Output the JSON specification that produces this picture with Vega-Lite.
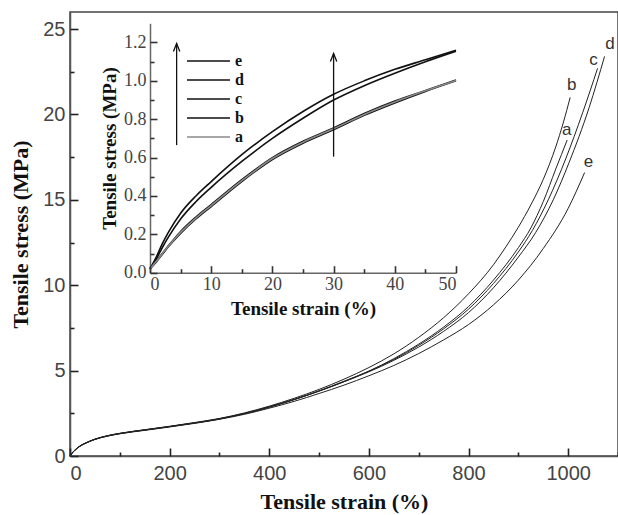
{
  "$schema": "https://vega.github.io/schema/vega-lite/v6.json",
  "width": 548,
  "height": 444,
  "autosize": {"type": "none"},
  "padding": {"left": 70, "top": 12, "right": 0, "bottom": 59},
  "background": "white",
  "config": {
    "view": {"stroke": "#444", "strokeWidth": 1.5},
    "axis": {"grid": false, "domainColor": "#555", "domainWidth": 1.5, "labelColor": "#444", "titleColor": "#111", "labelOverlap": false}
  },
  "datasets": {
    "main": [
      {"series": "a", "strain": 0, "stress": 0}, {"series": "a", "strain": 5, "stress": 0.2}, {"series": "a", "strain": 10, "stress": 0.35}, {"series": "a", "strain": 20, "stress": 0.58}, {"series": "a", "strain": 30, "stress": 0.74}, {"series": "a", "strain": 40, "stress": 0.87}, {"series": "a", "strain": 50, "stress": 0.98}, {"series": "a", "strain": 75, "stress": 1.18}, {"series": "a", "strain": 100, "stress": 1.32}, {"series": "a", "strain": 150, "stress": 1.52}, {"series": "a", "strain": 200, "stress": 1.72}, {"series": "a", "strain": 250, "stress": 1.93}, {"series": "a", "strain": 300, "stress": 2.17}, {"series": "a", "strain": 350, "stress": 2.48}, {"series": "a", "strain": 400, "stress": 2.86}, {"series": "a", "strain": 450, "stress": 3.3}, {"series": "a", "strain": 500, "stress": 3.8}, {"series": "a", "strain": 550, "stress": 4.35}, {"series": "a", "strain": 600, "stress": 4.97}, {"series": "a", "strain": 650, "stress": 5.7}, {"series": "a", "strain": 700, "stress": 6.55}, {"series": "a", "strain": 750, "stress": 7.55}, {"series": "a", "strain": 800, "stress": 8.75}, {"series": "a", "strain": 850, "stress": 10.3}, {"series": "a", "strain": 900, "stress": 12.2}, {"series": "a", "strain": 925, "stress": 13.35}, {"series": "a", "strain": 950, "stress": 14.9}, {"series": "a", "strain": 975, "stress": 16.8}, {"series": "a", "strain": 998, "stress": 18.5},
      {"series": "b", "strain": 0, "stress": 0}, {"series": "b", "strain": 5, "stress": 0.21}, {"series": "b", "strain": 10, "stress": 0.36}, {"series": "b", "strain": 20, "stress": 0.59}, {"series": "b", "strain": 30, "stress": 0.75}, {"series": "b", "strain": 40, "stress": 0.88}, {"series": "b", "strain": 50, "stress": 0.99}, {"series": "b", "strain": 75, "stress": 1.19}, {"series": "b", "strain": 100, "stress": 1.33}, {"series": "b", "strain": 150, "stress": 1.54}, {"series": "b", "strain": 200, "stress": 1.74}, {"series": "b", "strain": 250, "stress": 1.96}, {"series": "b", "strain": 300, "stress": 2.2}, {"series": "b", "strain": 350, "stress": 2.52}, {"series": "b", "strain": 400, "stress": 2.92}, {"series": "b", "strain": 450, "stress": 3.38}, {"series": "b", "strain": 500, "stress": 3.9}, {"series": "b", "strain": 550, "stress": 4.5}, {"series": "b", "strain": 600, "stress": 5.18}, {"series": "b", "strain": 650, "stress": 5.98}, {"series": "b", "strain": 700, "stress": 6.95}, {"series": "b", "strain": 750, "stress": 8.1}, {"series": "b", "strain": 800, "stress": 9.5}, {"series": "b", "strain": 850, "stress": 11.2}, {"series": "b", "strain": 875, "stress": 12.25}, {"series": "b", "strain": 900, "stress": 13.4}, {"series": "b", "strain": 925, "stress": 14.7}, {"series": "b", "strain": 950, "stress": 16.2}, {"series": "b", "strain": 975, "stress": 18.1}, {"series": "b", "strain": 990, "stress": 19.5}, {"series": "b", "strain": 1004, "stress": 21.0},
      {"series": "c", "strain": 0, "stress": 0}, {"series": "c", "strain": 5, "stress": 0.2}, {"series": "c", "strain": 10, "stress": 0.35}, {"series": "c", "strain": 20, "stress": 0.58}, {"series": "c", "strain": 30, "stress": 0.74}, {"series": "c", "strain": 40, "stress": 0.87}, {"series": "c", "strain": 50, "stress": 0.98}, {"series": "c", "strain": 75, "stress": 1.18}, {"series": "c", "strain": 100, "stress": 1.32}, {"series": "c", "strain": 150, "stress": 1.53}, {"series": "c", "strain": 200, "stress": 1.73}, {"series": "c", "strain": 250, "stress": 1.94}, {"series": "c", "strain": 300, "stress": 2.18}, {"series": "c", "strain": 350, "stress": 2.5}, {"series": "c", "strain": 400, "stress": 2.88}, {"series": "c", "strain": 450, "stress": 3.32}, {"series": "c", "strain": 500, "stress": 3.82}, {"series": "c", "strain": 550, "stress": 4.38}, {"series": "c", "strain": 600, "stress": 4.97}, {"series": "c", "strain": 650, "stress": 5.65}, {"series": "c", "strain": 700, "stress": 6.48}, {"series": "c", "strain": 750, "stress": 7.45}, {"series": "c", "strain": 800, "stress": 8.6}, {"series": "c", "strain": 850, "stress": 10.1}, {"series": "c", "strain": 900, "stress": 11.95}, {"series": "c", "strain": 928, "stress": 13.2}, {"series": "c", "strain": 960, "stress": 15.0}, {"series": "c", "strain": 995, "stress": 17.4}, {"series": "c", "strain": 1029, "stress": 20.1}, {"series": "c", "strain": 1059, "stress": 22.7},
      {"series": "d", "strain": 0, "stress": 0}, {"series": "d", "strain": 5, "stress": 0.19}, {"series": "d", "strain": 10, "stress": 0.34}, {"series": "d", "strain": 20, "stress": 0.57}, {"series": "d", "strain": 30, "stress": 0.73}, {"series": "d", "strain": 40, "stress": 0.86}, {"series": "d", "strain": 50, "stress": 0.97}, {"series": "d", "strain": 75, "stress": 1.17}, {"series": "d", "strain": 100, "stress": 1.31}, {"series": "d", "strain": 150, "stress": 1.52}, {"series": "d", "strain": 200, "stress": 1.72}, {"series": "d", "strain": 250, "stress": 1.93}, {"series": "d", "strain": 300, "stress": 2.17}, {"series": "d", "strain": 350, "stress": 2.48}, {"series": "d", "strain": 400, "stress": 2.86}, {"series": "d", "strain": 450, "stress": 3.3}, {"series": "d", "strain": 500, "stress": 3.8}, {"series": "d", "strain": 550, "stress": 4.35}, {"series": "d", "strain": 600, "stress": 4.93}, {"series": "d", "strain": 650, "stress": 5.6}, {"series": "d", "strain": 700, "stress": 6.38}, {"series": "d", "strain": 750, "stress": 7.3}, {"series": "d", "strain": 800, "stress": 8.4}, {"series": "d", "strain": 850, "stress": 9.85}, {"series": "d", "strain": 900, "stress": 11.65}, {"series": "d", "strain": 935, "stress": 13.1}, {"series": "d", "strain": 970, "stress": 15.0}, {"series": "d", "strain": 1002, "stress": 17.2}, {"series": "d", "strain": 1042, "stress": 20.4}, {"series": "d", "strain": 1073, "stress": 23.4},
      {"series": "e", "strain": 0, "stress": 0}, {"series": "e", "strain": 5, "stress": 0.19}, {"series": "e", "strain": 10, "stress": 0.34}, {"series": "e", "strain": 20, "stress": 0.57}, {"series": "e", "strain": 30, "stress": 0.73}, {"series": "e", "strain": 40, "stress": 0.86}, {"series": "e", "strain": 50, "stress": 0.97}, {"series": "e", "strain": 75, "stress": 1.16}, {"series": "e", "strain": 100, "stress": 1.3}, {"series": "e", "strain": 150, "stress": 1.5}, {"series": "e", "strain": 200, "stress": 1.7}, {"series": "e", "strain": 250, "stress": 1.91}, {"series": "e", "strain": 300, "stress": 2.15}, {"series": "e", "strain": 350, "stress": 2.44}, {"series": "e", "strain": 400, "stress": 2.8}, {"series": "e", "strain": 450, "stress": 3.2}, {"series": "e", "strain": 500, "stress": 3.66}, {"series": "e", "strain": 550, "stress": 4.15}, {"series": "e", "strain": 600, "stress": 4.7}, {"series": "e", "strain": 650, "stress": 5.3}, {"series": "e", "strain": 700, "stress": 6.0}, {"series": "e", "strain": 750, "stress": 6.8}, {"series": "e", "strain": 800, "stress": 7.7}, {"series": "e", "strain": 850, "stress": 8.85}, {"series": "e", "strain": 900, "stress": 10.3}, {"series": "e", "strain": 950, "stress": 12.15}, {"series": "e", "strain": 1000, "stress": 14.5}, {"series": "e", "strain": 1033, "stress": 16.6}
    ],
    "labels": [
      {"label": "a", "strain": 997, "stress": 19.1},
      {"label": "b", "strain": 1007, "stress": 21.7},
      {"label": "c", "strain": 1051, "stress": 23.2},
      {"label": "d", "strain": 1084, "stress": 24.1},
      {"label": "e", "strain": 1041, "stress": 17.2}
    ],
    "inset": [
      {"series": "e", "strain": 0, "stress": 0.02}, {"series": "e", "strain": 1, "stress": 0.08}, {"series": "e", "strain": 2, "stress": 0.15}, {"series": "e", "strain": 3, "stress": 0.21}, {"series": "e", "strain": 5, "stress": 0.31}, {"series": "e", "strain": 7.5, "stress": 0.4}, {"series": "e", "strain": 10, "stress": 0.475}, {"series": "e", "strain": 15, "stress": 0.615}, {"series": "e", "strain": 20, "stress": 0.735}, {"series": "e", "strain": 25, "stress": 0.84}, {"series": "e", "strain": 30, "stress": 0.93}, {"series": "e", "strain": 35, "stress": 1.0}, {"series": "e", "strain": 40, "stress": 1.06}, {"series": "e", "strain": 45, "stress": 1.11}, {"series": "e", "strain": 50, "stress": 1.16},
      {"series": "d", "strain": 0, "stress": 0.02}, {"series": "d", "strain": 1, "stress": 0.07}, {"series": "d", "strain": 2, "stress": 0.13}, {"series": "d", "strain": 3, "stress": 0.185}, {"series": "d", "strain": 5, "stress": 0.28}, {"series": "d", "strain": 7.5, "stress": 0.37}, {"series": "d", "strain": 10, "stress": 0.445}, {"series": "d", "strain": 15, "stress": 0.58}, {"series": "d", "strain": 20, "stress": 0.7}, {"series": "d", "strain": 25, "stress": 0.805}, {"series": "d", "strain": 30, "stress": 0.9}, {"series": "d", "strain": 35, "stress": 0.975}, {"series": "d", "strain": 40, "stress": 1.04}, {"series": "d", "strain": 45, "stress": 1.1}, {"series": "d", "strain": 50, "stress": 1.155},
      {"series": "c", "strain": 0, "stress": 0.02}, {"series": "c", "strain": 1, "stress": 0.06}, {"series": "c", "strain": 2, "stress": 0.1}, {"series": "c", "strain": 3, "stress": 0.14}, {"series": "c", "strain": 5, "stress": 0.215}, {"series": "c", "strain": 7.5, "stress": 0.29}, {"series": "c", "strain": 10, "stress": 0.355}, {"series": "c", "strain": 15, "stress": 0.485}, {"series": "c", "strain": 20, "stress": 0.6}, {"series": "c", "strain": 25, "stress": 0.685}, {"series": "c", "strain": 30, "stress": 0.755}, {"series": "c", "strain": 35, "stress": 0.83}, {"series": "c", "strain": 40, "stress": 0.895}, {"series": "c", "strain": 45, "stress": 0.95}, {"series": "c", "strain": 50, "stress": 1.005},
      {"series": "b", "strain": 0, "stress": 0.02}, {"series": "b", "strain": 1, "stress": 0.055}, {"series": "b", "strain": 2, "stress": 0.095}, {"series": "b", "strain": 3, "stress": 0.135}, {"series": "b", "strain": 5, "stress": 0.205}, {"series": "b", "strain": 7.5, "stress": 0.28}, {"series": "b", "strain": 10, "stress": 0.345}, {"series": "b", "strain": 15, "stress": 0.475}, {"series": "b", "strain": 20, "stress": 0.59}, {"series": "b", "strain": 25, "stress": 0.675}, {"series": "b", "strain": 30, "stress": 0.745}, {"series": "b", "strain": 35, "stress": 0.82}, {"series": "b", "strain": 40, "stress": 0.885}, {"series": "b", "strain": 45, "stress": 0.945}, {"series": "b", "strain": 50, "stress": 1.0},
      {"series": "a", "strain": 0, "stress": 0.02}, {"series": "a", "strain": 1, "stress": 0.058}, {"series": "a", "strain": 2, "stress": 0.098}, {"series": "a", "strain": 3, "stress": 0.138}, {"series": "a", "strain": 5, "stress": 0.21}, {"series": "a", "strain": 7.5, "stress": 0.285}, {"series": "a", "strain": 10, "stress": 0.35}, {"series": "a", "strain": 15, "stress": 0.48}, {"series": "a", "strain": 20, "stress": 0.595}, {"series": "a", "strain": 25, "stress": 0.68}, {"series": "a", "strain": 30, "stress": 0.75}, {"series": "a", "strain": 35, "stress": 0.825}, {"series": "a", "strain": 40, "stress": 0.89}, {"series": "a", "strain": 45, "stress": 0.948}, {"series": "a", "strain": 50, "stress": 1.002}
    ],
    "arrows": [
      {"strain": 4.35, "stress": 0.665, "stress2": 1.195},
      {"strain": 30, "stress": 0.605, "stress2": 1.143}
    ]
  },
  "resolve": {"scale": {"x": "independent", "y": "independent"}, "axis": {"x": "independent", "y": "independent"}},
  "layer": [
    {
      "data": {"name": "main"},
      "mark": {"type": "line", "interpolate": "monotone", "strokeWidth": 1, "color": "#222"},
      "encoding": {
        "detail": {"field": "series"},
        "x": {"field": "strain", "type": "quantitative", "scale": {"domain": [0, 1100], "nice": false},
          "axis": {"orient": "bottom", "title": "Tensile strain (%)", "values": [0, 200, 400, 600, 800, 1000],
            "format": "d", "ticks": false,
            "labelFont": "Liberation Sans", "labelFontSize": 20, "labelPadding": 7,
            "titleFont": "Liberation Serif", "titleFontWeight": "bold", "titleFontSize": 22, "titlePadding": 8}},
        "y": {"field": "stress", "type": "quantitative", "scale": {"domain": [0, 26], "nice": false},
          "axis": {"orient": "left", "title": "Tensile stress (MPa)", "values": [0, 5, 10, 15, 20, 25],
            "ticks": false,
            "labelFont": "Liberation Sans", "labelFontSize": 20, "labelPadding": 5,
            "titleFont": "Liberation Serif", "titleFontWeight": "bold", "titleFontSize": 22, "titlePadding": 10}}
      }
    },
    {
      "data": {"name": "labels"},
      "mark": {"type": "text", "font": "Liberation Sans", "fontSize": 17, "color": "#333", "align": "center", "baseline": "middle"},
      "encoding": {
        "x": {"field": "strain", "type": "quantitative", "scale": {"domain": [0, 1100], "nice": false},
          "axis": {"orient": "top", "offset": -444, "values": [0, 100, 200, 300, 400, 500, 600, 700, 800, 900, 1000, 1100],
            "ticks": true, "tickColor": "#222", "tickWidth": 1.6, "zindex": 1,
            "tickSize": {"condition": {"test": "datum.value % 200 === 0", "value": 8}, "value": 4},
            "labels": false, "domain": false, "title": null}},
        "y": {"field": "stress", "type": "quantitative", "scale": {"domain": [0, 26], "nice": false},
          "axis": {"orient": "right", "offset": -548, "values": [0, 2.5, 5, 7.5, 10, 12.5, 15, 17.5, 20, 22.5, 25],
            "ticks": true, "tickColor": "#222", "tickWidth": 1.6, "zindex": 1,
            "tickSize": {"condition": {"test": "datum.value % 5 === 0", "value": 8}, "value": 4},
            "labels": false, "domain": false, "title": null}},
        "text": {"field": "label"}
      }
    },
    {
      "mark": {"type": "rect", "filled": false, "fill": "transparent", "stroke": "#666", "strokeWidth": 1.5},
      "encoding": {
        "x": {"datum": 0, "type": "quantitative", "scale": {"domain": [0, 50], "nice": false, "range": [80, 386]},
          "axis": {"orient": "bottom", "offset": -183.3, "title": "Tensile strain (%)", "values": [0, 10, 20, 30, 40, 50],
            "ticks": false, "domainColor": "#666",
            "labelFont": "Liberation Serif", "labelFontSize": 18, "labelPadding": 3,
            "titleFont": "Liberation Serif", "titleFontWeight": "bold", "titleFontSize": 19, "titlePadding": 6}},
        "x2": {"datum": 50},
        "y": {"datum": 0, "type": "quantitative", "scale": {"domain": [0, 1.3], "nice": false, "range": [260.7, 11.3]},
          "axis": {"orient": "left", "offset": -80, "title": "Tensile stress (MPa)", "values": [0, 0.2, 0.4, 0.6, 0.8, 1.0, 1.2],
            "format": ".1f", "ticks": false, "domainColor": "#666",
            "labelFont": "Liberation Serif", "labelFontSize": 18, "labelPadding": 4,
            "titleFont": "Liberation Serif", "titleFontWeight": "bold", "titleFontSize": 19, "titlePadding": 4}},
        "y2": {"datum": 1.3}
      }
    },
    {
      "data": {"name": "inset"},
      "mark": {"type": "line", "interpolate": "monotone", "strokeWidth": 1.6},
      "encoding": {
        "x": {"field": "strain", "type": "quantitative", "scale": {"domain": [0, 50], "nice": false, "range": [80, 386]}, "axis": null},
        "y": {"field": "stress", "type": "quantitative", "scale": {"domain": [0, 1.3], "nice": false, "range": [260.7, 11.3]}, "axis": null},
        "color": {"field": "series", "type": "nominal",
          "scale": {"domain": ["e", "d", "c", "b", "a"], "range": ["#111", "#111", "#111", "#111", "#8a8a8a"]},
          "legend": {"orient": "none", "legendX": 109, "legendY": 41, "title": null, "padding": 0,
            "symbolType": "M0,0H8.6", "symbolSize": 100, "symbolStrokeWidth": 1.6, "symbolFillColor": "transparent",
            "labelFont": "Liberation Serif", "labelFontWeight": "bold", "labelFontSize": 16, "labelColor": "#111",
            "labelOffset": 40, "rowPadding": 3}}
      }
    },
    {
      "data": {"name": "arrows"},
      "mark": {"type": "rule", "color": "#111", "strokeWidth": 1.3},
      "encoding": {
        "x": {"field": "strain", "type": "quantitative", "scale": {"domain": [0, 50], "nice": false, "range": [80, 386]},
          "axis": {"orient": "top", "offset": -260.7, "values": [0, 10, 20, 30, 40, 50], "zindex": 1,
            "ticks": true, "tickSize": 7, "tickColor": "#333", "tickWidth": 1.6, "labels": false, "domain": false, "title": null}},
        "y": {"field": "stress", "type": "quantitative", "scale": {"domain": [0, 1.3], "nice": false, "range": [260.7, 11.3]},
          "axis": {"orient": "right", "offset": -468, "values": [0, 0.2, 0.4, 0.6, 0.8, 1.0, 1.2], "zindex": 1,
            "ticks": true, "tickSize": 7, "tickColor": "#333", "tickWidth": 1.6, "labels": false, "domain": false, "title": null}},
        "y2": {"field": "stress2"}
      }
    },
    {
      "data": {"name": "arrows"},
      "mark": {"type": "point", "shape": "M-0.8,2L0,0L0.8,2", "filled": false, "stroke": "#111", "strokeWidth": 1.3, "size": 64, "opacity": 1},
      "encoding": {
        "x": {"field": "strain", "type": "quantitative", "scale": {"domain": [0, 50], "nice": false, "range": [80, 386]},
          "axis": {"orient": "top", "offset": -260.7, "values": [5, 15, 25, 35, 45], "zindex": 1,
            "ticks": true, "tickSize": 4, "tickColor": "#333", "tickWidth": 1.6, "labels": false, "domain": false, "title": null}},
        "y": {"field": "stress2", "type": "quantitative", "scale": {"domain": [0, 1.3], "nice": false, "range": [260.7, 11.3]},
          "axis": {"orient": "right", "offset": -468, "values": [0.1, 0.3, 0.5, 0.7, 0.9, 1.1], "zindex": 1,
            "ticks": true, "tickSize": 4, "tickColor": "#333", "tickWidth": 1.6, "labels": false, "domain": false, "title": null}}
      }
    }
  ]
}
